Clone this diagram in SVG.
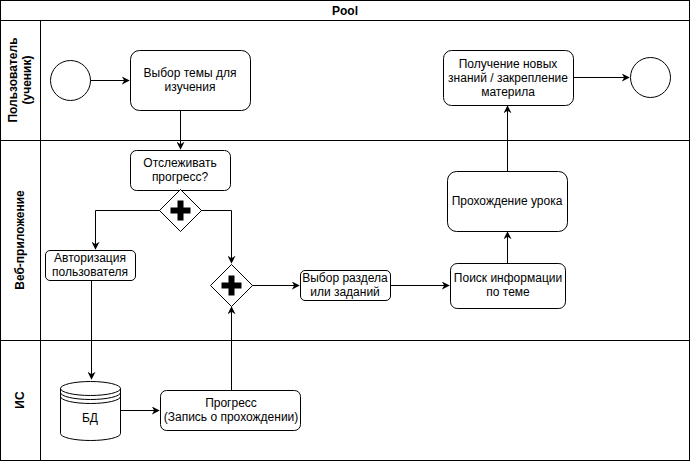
<svg xmlns="http://www.w3.org/2000/svg" width="691" height="461" viewBox="0 0 691 461">
<defs>
<style>
.ln{fill:none;stroke:#000;stroke-width:1}
.box{fill:#fff;stroke:#000;stroke-width:1}
.t{font-family:"Liberation Sans",Arial,sans-serif;font-size:12px;fill:#000;text-anchor:middle}
.b{font-weight:bold}
</style>
<marker id="ar" viewBox="0 0 10 10" refX="9" refY="5" markerWidth="8" markerHeight="8" markerUnits="userSpaceOnUse" orient="auto">
<path d="M0,0 L10,5 L0,10 L3,5 Z" fill="#000"/>
</marker>
<g id="plus"><rect x="-10" y="-3" width="20" height="6" fill="#000"/><rect x="-3" y="-10" width="6" height="20" fill="#000"/></g>
</defs>
<rect x="0" y="0" width="691" height="461" fill="#fff"/>
<g id="pool">
<rect class="box" x="0.5" y="0.5" width="689" height="460"/>
<line class="ln" x1="0.5" y1="20.5" x2="689.5" y2="20.5"/>
<text class="t b" x="345" y="15">Pool</text>
</g>
<g id="lanes">
<line class="ln" x1="40.5" y1="20.5" x2="40.5" y2="460.5"/>
<line class="ln" x1="0.5" y1="140.5" x2="689.5" y2="140.5"/>
<line class="ln" x1="0.5" y1="340.5" x2="689.5" y2="340.5"/>
<text class="t b" transform="translate(20,80) rotate(-90)"><tspan x="0" y="-3">Пользователь</tspan><tspan x="0" y="11">(ученик)</tspan></text>
<text class="t b" transform="translate(24,240) rotate(-90)" x="0" y="0">Веб-приложение</text>
<text class="t b" transform="translate(24,400) rotate(-90)" x="0" y="0">ИС</text>
</g>
<g id="connectors">
<line class="ln" x1="90" y1="80.5" x2="129" y2="80.5" marker-end="url(#ar)"/>
<line class="ln" x1="180.5" y1="110" x2="180.5" y2="149" marker-end="url(#ar)"/>
<polyline class="ln" points="160,210.5 95.5,210.5 95.5,249" marker-end="url(#ar)"/>
<polyline class="ln" points="201,210.5 231.5,210.5 231.5,263" marker-end="url(#ar)"/>
<line class="ln" x1="252" y1="285.5" x2="299" y2="285.5" marker-end="url(#ar)"/>
<line class="ln" x1="390" y1="285.5" x2="449" y2="285.5" marker-end="url(#ar)"/>
<line class="ln" x1="507.5" y1="263" x2="507.5" y2="232" marker-end="url(#ar)"/>
<line class="ln" x1="507.5" y1="171" x2="507.5" y2="106" marker-end="url(#ar)"/>
<line class="ln" x1="573" y1="77.5" x2="629" y2="77.5" marker-end="url(#ar)"/>
<line class="ln" x1="91.5" y1="280" x2="91.5" y2="379" marker-end="url(#ar)"/>
<line class="ln" x1="120" y1="410.5" x2="159" y2="410.5" marker-end="url(#ar)"/>
<line class="ln" x1="231.5" y1="390" x2="231.5" y2="307" marker-end="url(#ar)"/>
</g>
<g id="start"><circle class="box" cx="70.5" cy="80.5" r="20"/></g>
<g id="task-topic"><rect class="box" x="130.5" y="50.5" width="120" height="60" rx="9"/>
<text class="t" x="190" y="77">Выбор темы для</text><text class="t" x="190" y="91">изучения</text></g>
<g id="task-track"><rect class="box" x="130.5" y="150.5" width="100" height="40" rx="6"/>
<text class="t" x="180" y="167">Отслеживать</text><text class="t" x="180" y="181">прогресс?</text></g>
<g id="gw1"><path class="box" d="M180.5,189.5 L201.5,210.5 L180.5,231.5 L159.5,210.5 Z"/><use href="#plus" x="180.5" y="210.5"/></g>
<g id="task-auth"><rect class="box" x="45.5" y="250.5" width="90" height="30" rx="4.5"/>
<text class="t" x="90" y="262">Авторизация</text><text class="t" x="90" y="276">пользователя</text></g>
<g id="gw2"><path class="box" d="M231.5,264.5 L252.5,285.5 L231.5,306.5 L210.5,285.5 Z"/><use href="#plus" x="231.5" y="285.5"/></g>
<g id="task-section"><rect class="box" x="300.5" y="270.5" width="90" height="30" rx="4.5"/>
<text class="t" x="345" y="282">Выбор раздела</text><text class="t" x="345" y="296">или заданий</text></g>
<g id="task-search"><rect class="box" x="450.5" y="263.5" width="115" height="45" rx="6.75"/>
<text class="t" x="508" y="282">Поиск информации</text><text class="t" x="508" y="296">по теме</text></g>
<g id="task-lesson"><rect class="box" x="447.5" y="171.5" width="120" height="60" rx="9"/>
<text class="t" x="507" y="205">Прохождение урока</text></g>
<g id="task-knowledge"><rect class="box" x="443.5" y="50.5" width="130" height="55" rx="8"/>
<text class="t" x="508" y="68">Получение новых</text><text class="t" x="508" y="82">знаний / закрепление</text><text class="t" x="508" y="96">материла</text></g>
<g id="end"><circle class="box" cx="650.5" cy="77.5" r="20"/></g>
<g id="db">
<path class="box" d="M60.5,388.5 A30,7 0 0 1 120.5,388.5 L120.5,433.5 A30,7 0 0 1 60.5,433.5 Z"/>
<path class="ln" d="M60.5,388.5 A30,7 0 0 0 120.5,388.5 M60.5,392.5 A30,7 0 0 0 120.5,392.5 M60.5,396.5 A30,7 0 0 0 120.5,396.5"/>
<text class="t" x="90" y="422">БД</text>
</g>
<g id="task-progress"><rect class="box" x="160.5" y="390.5" width="140" height="40" rx="6"/>
<text class="t" x="231" y="407">Прогресс</text><text class="t" x="231" y="421">(Запись о прохождении)</text></g>
</svg>
